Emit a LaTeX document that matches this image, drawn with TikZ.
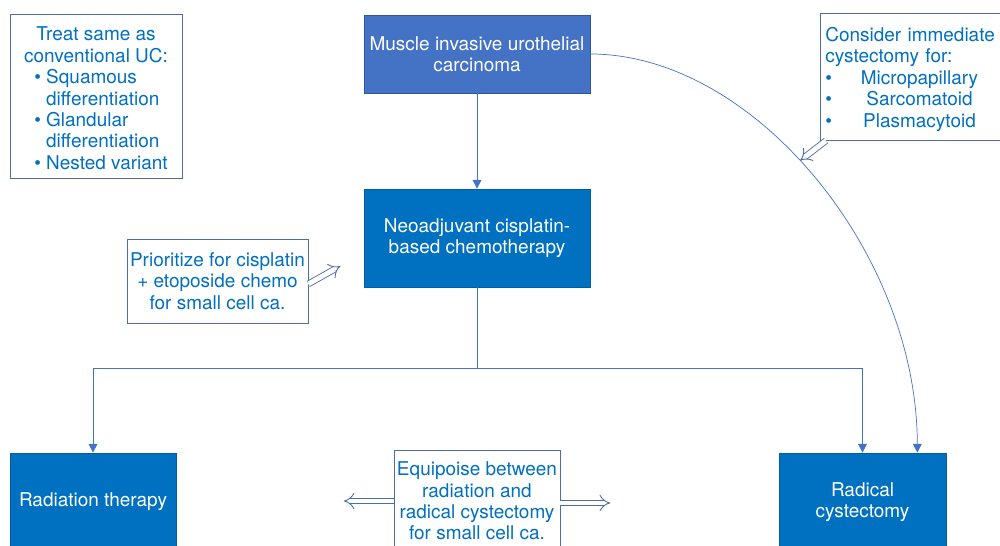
\documentclass[tikz,border=0pt]{standalone}
\usepackage{fontspec}
\setmainfont{TeX Gyre Heros}
\usetikzlibrary{arrows.meta}
\definecolor{stepblue}{HTML}{0070C0}
\definecolor{topblue}{HTML}{4472C4}
\definecolor{topedge}{HTML}{2F5597}
\definecolor{noteedge}{HTML}{4E6CA6}
\definecolor{linkblue}{HTML}{4472C4}
\tikzset{
  stepbox/.style={fill=stepblue, draw=stepblue!85!black, text=white, align=center, inner sep=0pt},
  notebox/.style={draw=noteedge, fill=white, text=stepblue, align=center, inner sep=0pt},
  link/.style={draw=linkblue, thin, -{Triangle[length=5pt,width=5pt]}},
  hollow/.style={draw=noteedge, line width=0.5pt, double=white, double distance=2.8pt, -{Implies[scale=1.3]}}
}

\begin{document}
\begin{tikzpicture}[x=0.02cm, y=-0.02cm, font=\fontsize{10.8}{12.2}\selectfont]
\useasboundingbox (0,0) rectangle (1000,546);

% main column
\node[stepbox, fill=topblue, draw=topedge, minimum width=4.52cm, minimum height=1.56cm] (muscle) at (477,54) {Muscle invasive urothelial\\carcinoma};
\node[stepbox, minimum width=4.52cm, minimum height=1.96cm] (neo) at (477,238) {Neoadjuvant cisplatin-\\based chemotherapy};
\node[stepbox, minimum width=3.32cm, minimum height=1.96cm] (radiation) at (93,502) {Radiation therapy};
\node[stepbox, minimum width=3.34cm, minimum height=1.96cm] (radical) at (862.5,502) {Radical\\cystectomy};

% notes
\node[notebox, minimum width=3.44cm, minimum height=3.28cm] (same) at (96,96)
  {\rule{0pt}{14pt}Treat same as\\conventional UC:\\\hspace*{0.2cm}\begin{tabular}[t]{@{}c@{\hspace{3pt}}l@{}}\textbullet&Squamous\\&differentiation\\\textbullet&Glandular\\&differentiation\\\textbullet&Nested variant\end{tabular}};
\node[notebox, minimum width=3.62cm, minimum height=1.68cm] (prior) at (217.5,281) {Prioritize for cisplatin\\+ etoposide chemo\\for small cell ca.};
\node[notebox, minimum width=3.32cm, minimum height=2.04cm] (equi) at (477,501) {Equipoise between\\radiation and\\radical cystectomy\\for small cell ca.};
\node[notebox, align=left, text width=3.6cm, inner xsep=0.1cm, minimum height=2.54cm, anchor=north west] (consider) at (820,13)
  {\rule{0pt}{11pt}\makebox[3.6cm][s]{Consider immediate}\\cystectomy for:\\\textbullet\makebox[3.5cm]{Micropapillary}\\\textbullet\makebox[3.5cm]{Sarcomatoid}\\\textbullet\makebox[3.5cm]{Plasmacytoid}};

% connectors
\draw[link] (muscle) -- (neo);
\draw[linkblue, thin] (neo.south) -- ++(0,81) coordinate (split);
\draw[link] (split) -| (radiation);
\draw[link] (split) -| (radical);
\draw[link] (muscle.east) .. controls (754,54) and (917,253) .. ([xshift=-0.58cm]radical.north east);

% hollow arrows
\draw[hollow] ([yshift=-0.06cm]prior.east) -- ++(32,-18);
\draw[hollow] ([xshift=0.12cm]consider.south west) -- ++(-26,20);
\draw[hollow] (equi.west) -- ++(-50,0);
\draw[hollow] ([yshift=-0.04cm]equi.east) -- ++(50,0);

\end{tikzpicture}
\end{document}
